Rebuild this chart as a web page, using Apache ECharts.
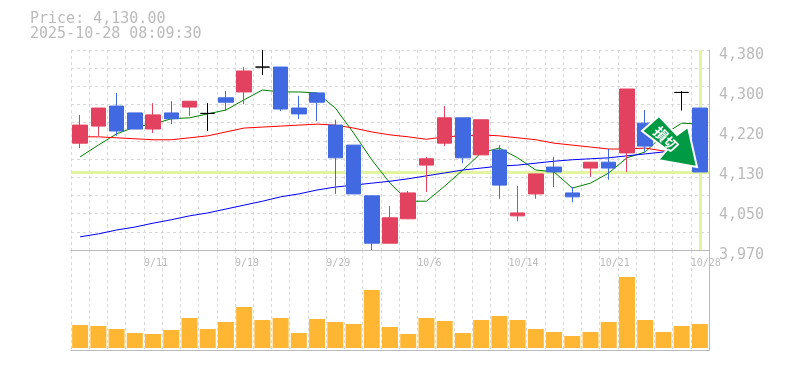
<!DOCTYPE html>
<html>
<head>
<meta charset="utf-8">
<style>
html, body { margin: 0; padding: 0; background: #fff; }
#chart { width: 785px; height: 370px; }
</style>
<script src="https://cdn.jsdelivr.net/npm/echarts@6/dist/echarts.min.js"></script>
</head>
<body>
<div id="chart"></div>
<script>
var categories = ['9/5','9/8','9/9','9/10','9/11','9/12','9/16','9/17','9/18','9/19','9/22','9/24','9/25','9/26','9/29','9/30','10/1','10/2','10/3','10/6','10/7','10/8','10/9','10/10','10/14','10/15','10/16','10/17','10/20','10/21','10/22','10/23','10/24','10/27','10/28'];
// open, close, low, high
var candles = [
    [4189,4226,4179,4247],[4224,4261,4204,4261],[4265,4214,4204,4292],[4251,4218,4218,4251],[4218,4247,4210,4271],
    [4251,4239,4228,4275],[4263,4275,4245,4275],[4250,4250,4214,4271],[4282,4273,4255,4296],[4294,4337,4269,4345],
    [4345,4345,4329,4380],[4345,4259,4255,4345],[4261,4249,4239,4286],[4292,4273,4234,4292],[4226,4159,4085,4237],
    [4185,4085,4085,4185],[4081,3984,3970,4081],[3984,4036,3984,4060],[4034,4087,4034,4091],[4144,4157,4089,4161],
    [4189,4241,4183,4265],[4241,4159,4148,4241],[4165,4237,4165,4237],[4175,4103,4075,4185],[4040,4046,4029,4101],
    [4085,4126,4075,4126],[4140,4130,4099,4161],[4087,4079,4068,4099],[4138,4150,4120,4150],[4150,4138,4114,4177],
    [4169,4300,4130,4300],[4230,4183,4171,4257],[4220,4196,4196,4220],[4293,4293,4256,4296],[4261,4130,4130,4261]
];
var maShort = [4161,4185,4208,4222,4228,4239,4241,4249,4257,4278,4298,4294,4294,4292,4261,4210,4155,4107,4070,4070,4101,4134,4169,4179,4159,4134,4130,4097,4107,4128,4159,4171,4206,4230,4228];
var maMid = [4202,4202,4200,4198,4196,4196,4200,4204,4212,4220,4222,4224,4226,4228,4226,4220,4212,4206,4202,4197,4202,4204,4206,4204,4200,4196,4189,4185,4181,4177,4177,4179,4173,4171,4169];
var maLong = [3997,4003,4011,4017,4025,4032,4040,4046,4054,4062,4070,4079,4085,4093,4099,4103,4107,4111,4116,4122,4128,4134,4138,4142,4144,4148,4152,4155,4157,4159,4163,4167,4171,4173,4175];
var volumes = [23,22,19,15,14,18,30,19,26,41,28,30,15,29,26,24,58,21,14,30,27,15,28,32,28,19,16,12,16,26,71,28,16,22,24];
var tickValues = [3970,4052,4134,4216,4298,4380];
var tickLabels = ['3,970','4,050','4,130','4,220','4,300','4,380'];
// labels sit on the slot's left edge, so one more entry than candles
var dateTicks = ['','','','','9/11','','','','','9/19','','','','','9/29','','','','','10/6','','','','','10/14','','','','','10/21','','','','','10/28',''];
var lastPrice = 4130;
var lastDate = '10/28';

var mono = '"DejaVu Sans Mono", monospace';
var gridLine = { show: true, lineStyle: { color: '#d8d8d8', type: [3, 3], width: 1 } };
var frame = { show: true, onZero: false, lineStyle: { color: '#bbb', width: 1 } };

var chart = echarts.init(document.getElementById('chart'));
var option = {
    animation: false,
    backgroundColor: '#fff',
    title: {
        left: 25, top: 7,
        text: 'Price: 4,130.00\n2025-10-28 08:09:30',
        textStyle: { fontFamily: mono, fontSize: 15, fontWeight: 'normal', color: '#bbb', lineHeight: 15 }
    },
    grid: [
        { left: 71, width: 638, top: 50, height: 200 },
        { left: 71, width: 638, top: 250, height: 100 }
    ],
    xAxis: [
        { type: 'category', gridIndex: 0, data: categories, axisLine: frame, axisTick: { show: false },
          axisLabel: { show: false }, splitLine: { show: true, interval: 0, lineStyle: gridLine.lineStyle } },
        { type: 'category', gridIndex: 0, boundaryGap: false, data: dateTicks, position: 'bottom',
          axisLine: { show: false }, axisTick: { show: false }, splitLine: { show: false },
          axisLabel: { interval: 0, align: 'left', margin: 8, fontFamily: mono, fontSize: 10, color: '#bbb' } },
        { type: 'category', gridIndex: 1, data: categories, axisLine: frame, axisTick: { show: false },
          axisLabel: { show: false }, splitLine: { show: true, interval: 0, lineStyle: gridLine.lineStyle } }
    ],
    yAxis: [
        { type: 'value', gridIndex: 0, position: 'right', min: 3970, max: 4380, scale: true,
          axisLine: frame, axisTick: { show: false }, splitLine: { show: false },
          axisLabel: { customValues: tickValues, margin: 10, fontFamily: mono, fontSize: 15, color: '#bbb', verticalAlign: 'top', lineHeight: 10,
              formatter: function (v) { return tickLabels[tickValues.indexOf(v)]; } } },
        // only draws the horizontal dashes
        { type: 'value', gridIndex: 0, position: 'left', min: 0, max: 11, interval: 1,
          axisLine: { show: false }, axisTick: { show: false }, axisLabel: { show: false }, splitLine: gridLine },
        { type: 'value', gridIndex: 1, position: 'right', min: -2, max: 98,
          axisLine: frame, axisTick: { show: false }, axisLabel: { show: false }, splitLine: { show: false } }
    ],
    series: [
        { name: 'now', type: 'line', xAxisIndex: 0, yAxisIndex: 0, data: [], silent: true, z: 1,
          markLine: { silent: true, symbol: 'none', label: { show: false }, z: 1,
              lineStyle: { color: '#e2f4a0', width: 3, type: 'solid' },
              data: [{ yAxis: lastPrice }, { xAxis: lastDate }] } },
        { name: 'ma5', type: 'line', xAxisIndex: 0, yAxisIndex: 0, data: maShort, showSymbol: false, z: 2,
          lineStyle: { color: '#008000', width: 1 } },
        { name: 'ma25', type: 'line', xAxisIndex: 0, yAxisIndex: 0, data: maMid, showSymbol: false, z: 2,
          lineStyle: { color: '#ff0000', width: 1 } },
        { name: 'ma75', type: 'line', xAxisIndex: 0, yAxisIndex: 0, data: maLong, showSymbol: false, z: 2,
          lineStyle: { color: '#0000ff', width: 1 } },
        { name: 'price', type: 'candlestick', xAxisIndex: 0, yAxisIndex: 0, data: candles, barWidth: 15, z: 3,
          itemStyle: { color: '#e2425f', color0: '#4169e1', borderColor: '#e2425f', borderColor0: '#4169e1', borderColorDoji: '#000', borderWidth: 1 } },
        { name: 'volume', type: 'bar', xAxisIndex: 2, yAxisIndex: 2, data: volumes, barWidth: 16,
          itemStyle: { color: '#ffb733' } }
    ],
    graphic: [
        { type: 'polygon', z: 100,
          shape: { points: [[642,131],[659,116],[677,135],[688,127],[697,167],[658,160],[667,150]] },
          style: { fill: '#009944', stroke: '#fff', lineWidth: 2 } },
        { type: 'text', z: 101, x: 666, y: 139, rotation: -Math.PI / 4,
          style: { text: '損切', fill: '#fff', font: 'bold 14px "Noto Sans CJK JP"', textAlign: 'center', textVerticalAlign: 'middle' } }
    ]
};
chart.setOption(option);
window.addEventListener('resize', function () {
    chart.resize();
});
</script>
</body>
</html>
